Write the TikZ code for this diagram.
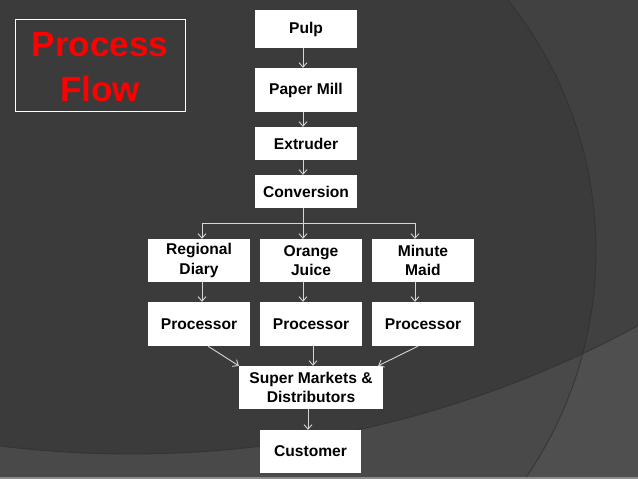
\documentclass[tikz,border=0pt]{standalone}
\usepackage{fontspec}
\setmainfont{Liberation Sans}
\usetikzlibrary{arrows.meta}
\definecolor{bgA}{HTML}{3B3B3B}
\definecolor{edgeC}{HTML}{303030}
\definecolor{stripC}{HTML}{8C8C8C}
\definecolor{lineC}{HTML}{D6D6D6}
\definecolor{titleRed}{HTML}{FF0000}
\begin{document}
\begin{tikzpicture}[x=1pt,y=-1pt,
  box/.style={fill=white, inner sep=0pt, align=center, text=black,
    font=\fontsize{15.6}{19.4}\selectfont\bfseries, minimum width=102pt},
  plain/.style={draw=lineC, line width=0.9pt},
  conn/.style={draw=lineC, line width=0.9pt, -{Straight Barb[length=4.5pt,width=8pt]}}]
\useasboundingbox (0,0) rectangle (638,479);
% background
\begin{scope}
\clip (0,0) rectangle (638,479);
\fill[bgA] (0,0) rectangle (638,479);
\fill[white, fill opacity=0.035, even odd rule] (0,0) rectangle (638,479) (195,251) circle[radius=401pt];
\fill[white, fill opacity=0.075, even odd rule] (0,0) rectangle (638,479) (131,-610) circle[radius=1064pt];
\draw[edgeC, line width=0.9pt, draw opacity=0.8] (195,251) circle[radius=401pt];
\draw[edgeC, line width=0.9pt, draw opacity=0.8] (131,-610) circle[radius=1064pt];
\fill[stripC] (0,477) rectangle (638,479);
\end{scope}
% title
\node (title) [draw=white, line width=1pt, minimum width=170pt, minimum height=92pt,
  align=center, text=titleRed, font=\fontsize{35}{45}\selectfont\bfseries] at (100,65) {};
\node [align=center, text=titleRed, font=\fontsize{35}{45}\selectfont\bfseries, inner sep=0pt]
  at ([yshift=-2.5pt]title.center) {Process\\Flow};
% boxes
\node (pulp) [box, minimum height=38pt] at (306,29) {Pulp};
\node (mill) [box, minimum height=44pt] at (306,90) {Paper Mill};
\node (extr) [box, minimum height=33pt] at (306,143.5) {Extruder};
\node (conv) [box, minimum height=33pt] at (306,191.5) {Conversion};
\node (reg) [box, minimum height=43pt] at (199,260.5) {Regional\\Diary};
\node (orange) [box, minimum height=43pt] at (311,260.5) {Orange\\Juice};
\node (minute) [box, minimum height=43pt] at (423,260.5) {Minute\\Maid};
\node (pa) [box, minimum height=44pt] at (199,324) {Processor};
\node (pb) [box, minimum height=44pt] at (311,324) {Processor};
\node (pc) [box, minimum height=44pt] at (423,324) {Processor};
\node (super) [box, minimum width=144pt, minimum height=43pt] at (311,387.5) {Super Markets \&\\Distributors};
\node (cust) [box, minimum width=101pt, minimum height=43pt] at (310.5,451.5) {Customer};
% connectors
\draw[conn] ([xshift=-3pt]pulp.south) -- ([xshift=-3pt]mill.north);
\draw[conn] ([xshift=-3pt]mill.south) -- ([xshift=-3pt]extr.north);
\draw[conn] ([xshift=-3pt]extr.south) -- ([xshift=-3pt]conv.north);
\coordinate (bl) at (202,223);
\coordinate (bm) at (303,223);
\coordinate (br) at (415,223);
\draw[plain] ([xshift=-3pt]conv.south) -- (bm);
\draw[plain] (bl) -- (br);
\draw[conn] (bl) -- (reg.north -| bl);
\draw[conn] (bm) -- (orange.north -| bm);
\draw[conn] (br) -- (minute.north -| br);
\draw[conn] ([xshift=3pt]reg.south) -- ([xshift=3pt]pa.north);
\draw[conn] ([xshift=-8pt]orange.south) -- ([xshift=-8pt]pb.north);
\draw[conn] ([xshift=-8pt]minute.south) -- ([xshift=-8pt]pc.north);
\draw[conn] ([xshift=9pt]pa.south) -- (super.north west);
\draw[conn] ([xshift=2pt]pb.south) -- ([xshift=2pt]super.north);
\draw[conn] ([xshift=-5pt]pc.south) -- ([xshift=-5pt]super.north east);
\draw[conn] ([xshift=-3pt]super.south) -- ([xshift=-2.5pt]cust.north);
\end{tikzpicture}
\end{document}
